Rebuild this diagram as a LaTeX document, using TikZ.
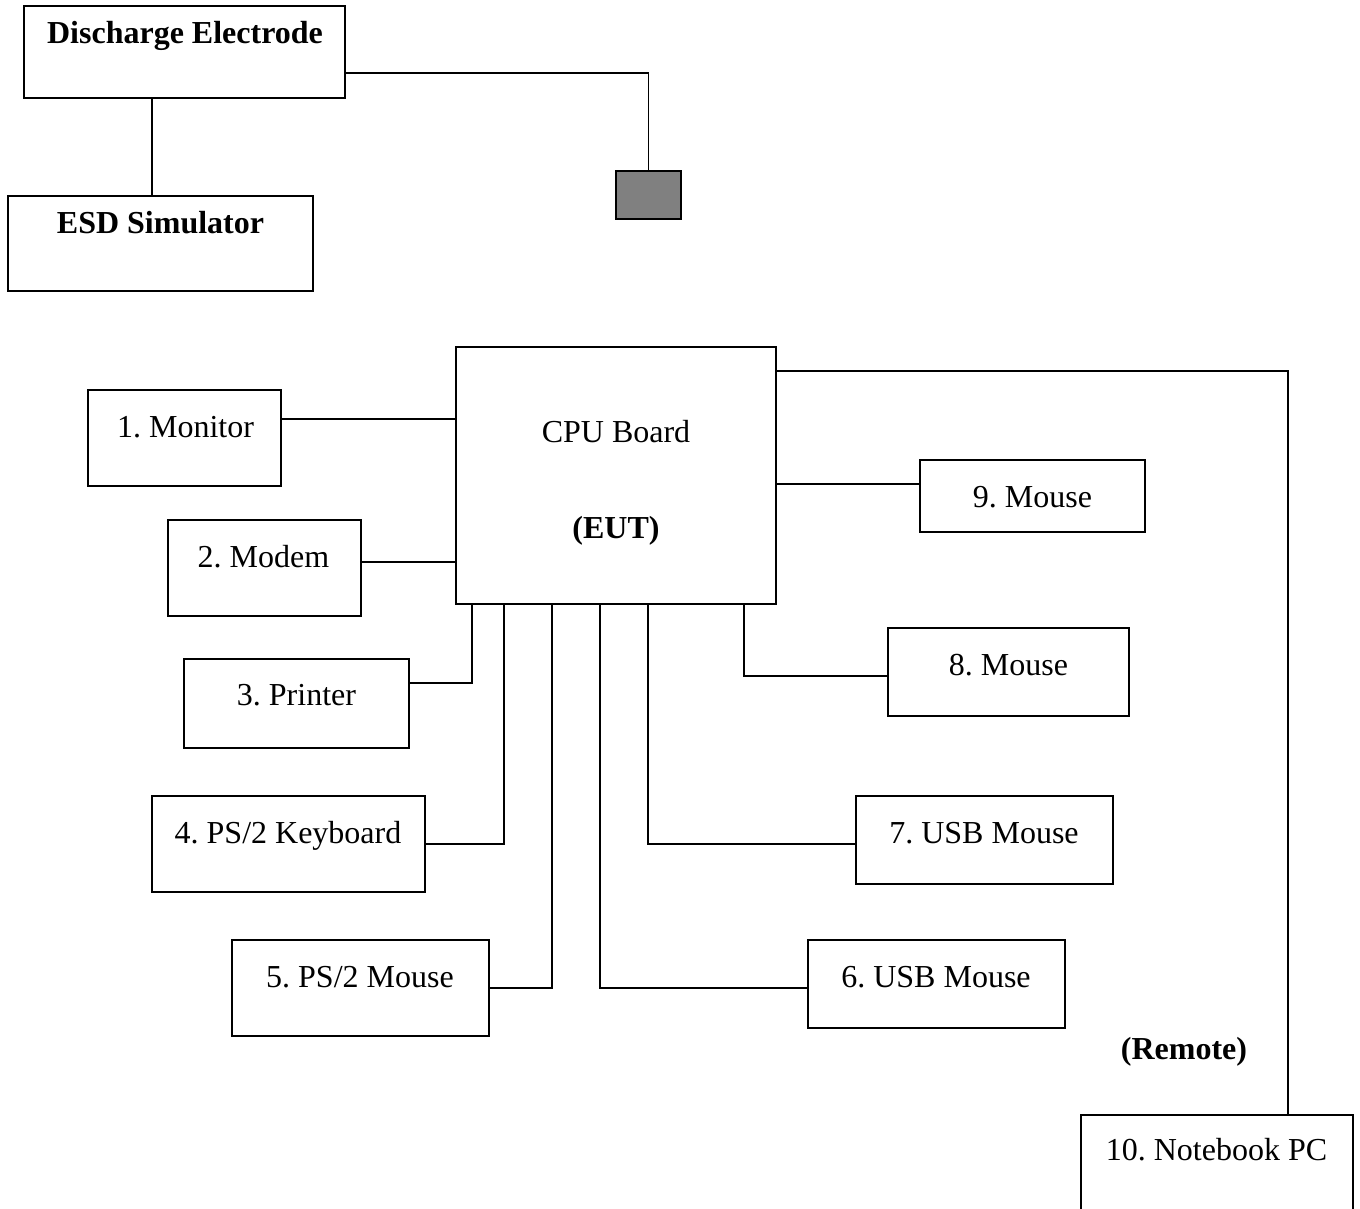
\documentclass[tikz,border=0pt]{standalone}
\usepackage{fontspec}
\setmainfont{Liberation Serif}
\frenchspacing
\begin{document}
\begin{tikzpicture}[x=1pt,y=-1pt,
  box/.style={draw=black,line width=1.6pt,fill=white,inner sep=0pt,outer sep=0pt},
  probe/.style={draw=black,line width=1.6pt,fill=black!50,inner sep=0pt,outer sep=0pt,minimum width=65pt,minimum height=48pt},
  wire/.style={draw=black,line width=1.6pt},
  lbl/.style={anchor=base,inner sep=0pt,font=\fontsize{32}{38}\selectfont\frenchspacing},
  blbl/.style={lbl,font=\fontsize{32}{38}\selectfont\frenchspacing\bfseries}]
\useasboundingbox (0,0) rectangle (1360,1208);

% test set-up
\node[box,minimum width=321pt,minimum height=92pt] (de) at (184.5,52) {};
\node[box,minimum width=305pt,minimum height=95pt] (esd) at (160.5,243.5) {};
\node[probe] (tip) at (648.5,195) {};

% equipment under test and peripherals
\node[box,minimum width=320pt,minimum height=257pt] (cpu) at (616,475.5) {};
\node[box,minimum width=193pt,minimum height=96pt] (mon) at (184.5,438) {};
\node[box,minimum width=193pt,minimum height=96pt] (modem) at (264.5,568) {};
\node[box,minimum width=225pt,minimum height=89pt] (prn) at (296.5,703.5) {};
\node[box,minimum width=273pt,minimum height=96pt] (kbd) at (288.5,844) {};
\node[box,minimum width=257pt,minimum height=96pt] (psm) at (360.5,988) {};
\node[box,minimum width=257pt,minimum height=88pt] (usb6) at (936.5,984) {};
\node[box,minimum width=257pt,minimum height=88pt] (usb7) at (984.5,840) {};
\node[box,minimum width=241pt,minimum height=88pt] (m8) at (1008.5,672) {};
\node[box,minimum width=225pt,minimum height=72pt] (m9) at (1032.5,496) {};
\node[box,minimum width=272pt,minimum height=100pt] (nb) at (1217,1165) {};

% labels
\node[blbl] (tde) at (185,43) {Discharge Electrode};
\node[blbl] (tesd) at (160.5,233) {ESD Simulator};
\node[lbl] (tcpu) at (616,442) {CPU Board};
\node[blbl] (teut) at (616,538) {(EUT)};
\node[lbl] (tmon) at (185.5,437) {1. Monitor};
\node[lbl] (tmodem) at (263.5,567) {2. Modem};
\node[lbl] (tprn) at (296.5,705) {3. Printer};
\node[lbl] (tkbd) at (288,843) {4. PS/2 Keyboard};
\node[lbl] (tpsm) at (360,987) {5. PS/2 Mouse};
\node[lbl] (tusb6) at (936,987) {6. USB Mouse};
\node[lbl] (tusb7) at (984,843) {7. USB Mouse};
\node[lbl] (tm8) at (1008.5,675) {8. Mouse};
\node[lbl] (tm9) at (1032.5,507) {9. Mouse};
\node[blbl] (trem) at (1184,1059) {(Remote)};
\node[lbl] (tnb) at (1216.5,1160) {10. Notebook PC};

% connections
\draw[wire] (de.south -| 152,0) -- (esd.north -| 152,0);
\draw[wire] (de.east |- 0,73) -| (tip.north);
\draw[wire] (mon.east |- 0,419) -- (cpu.west |- 0,419);
\draw[wire] (modem.east |- 0,562) -- (cpu.west |- 0,562);
\draw[wire] (prn.east |- 0,683) -| (cpu.south -| 472,0);
\draw[wire] (kbd.east |- 0,844) -| (cpu.south -| 504,0);
\draw[wire] (psm.east |- 0,988) -| (cpu.south -| 552,0);
\draw[wire] (usb6.west |- 0,988) -| (cpu.south -| 600,0);
\draw[wire] (usb7.west |- 0,844) -| (cpu.south -| 648,0);
\draw[wire] (m8.west |- 0,676) -| (cpu.south -| 744,0);
\draw[wire] (cpu.east |- 0,484) -- (m9.west |- 0,484);
\draw[wire] (cpu.east |- 0,371) -| (nb.north -| 1288,0);
\end{tikzpicture}
\end{document}
